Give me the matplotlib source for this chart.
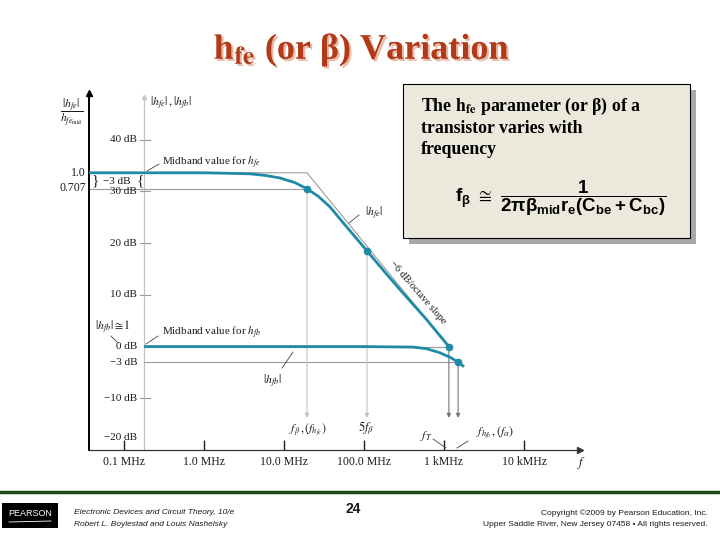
import matplotlib
matplotlib.use('Agg')
import matplotlib.pyplot as plt
import matplotlib.patheffects as pe
from matplotlib.patches import Rectangle
from matplotlib.ticker import NullLocator

plt.rcParams['font.family'] = ['Liberation Serif', 'DejaVu Sans']
plt.rcParams['mathtext.fontset'] = 'stix'
plt.rcParams['mathtext.rm'] = 'Liberation Sans:bold'
plt.rcParams['mathtext.it'] = 'Liberation Sans:bold'
plt.rcParams['mathtext.bf'] = 'Liberation Sans:bold'
plt.rcParams['mathtext.fallback'] = 'stix'

# values (frequency in MHz, gain in dB)
hfe_freq = [0.0365, 1.0, 2.1, 3.75, 5.8, 8.9, 13.7, 19.4, 26.6, 37.6, 58.0, 109.0, 180.0, 282.0, 600.0, 1150.0]
hfe_db = [33.6, 33.6, 33.5, 33.4, 33.1, 32.6, 31.7, 30.5, 29.1, 27.0, 23.5, 18.5, 14.5, 11.0, 5.3, 0.0]
hfb_freq = [0.178, 10.0, 100.0, 410.0, 600.0, 890.0, 1200.0, 1500.0, 1780.0]
hfb_db = [0.0, 0.0, 0.0, -0.1, -0.4, -1.2, -2.1, -3.0, -3.9]
hfe_mid = 33.6

# marked points: f_beta, 5 f_beta, f_T, f_alpha
mark_freq = [19.4, 109.0, 1150.0, 1500.0]
mark_db = [30.5, 18.5, 0.0, -3.0]

freq_ticks = [0.1, 1.0, 10.0, 100.0, 1000.0, 10000.0]
freq_labels = ['0.1 MHz', '1.0 MHz', '10.0 MHz', '100.0 MHz', '1 kMHz', '10 kMHz']
db_ticks = [40, 30, 20, 10, 0, -3, -10, -20]

teal = '#1f8aa6'
grey = '#9a9a9a'
light = '#c4c4c4'
ink = '#1a1a1a'

fig = plt.figure(figsize=(7.2, 5.4), dpi=100)
fig.patch.set_facecolor('white')

ax = fig.add_axes([89 / 720, 90 / 540, 491 / 720, 357 / 540])
ax.set_facecolor('none')
ax.set_xscale('log')
xmin, xmax = 10 ** -1.4375, 10 ** 4.7
ax.set_xlim(xmin, xmax)
ax.set_ylim(-20, 49.03)
for s in ['top', 'right']:
    ax.spines[s].set_visible(False)
ax.spines['left'].set_color('black')
ax.spines['left'].set_linewidth(1.4)
ax.spines['bottom'].set_color('#333333')
ax.spines['bottom'].set_linewidth(0.9)
ax.plot(0, 1, '^', color='black', ms=4, transform=ax.transAxes, clip_on=False)
ax.plot(1, 0, '>', color='#333333', ms=4, transform=ax.transAxes, clip_on=False)

ax.set_xticks(freq_ticks)
ax.set_xticklabels(freq_labels)
ax.xaxis.set_minor_locator(NullLocator())
ax.tick_params(axis='x', direction='in', length=7, width=1, colors=ink, labelsize=8.5, pad=4)
ax.set_yticks([])

# second (dB) axis
f2 = hfb_freq[0]
ax.plot([f2, f2], [-20, 48.3], color=light, lw=0.9)
ax.plot(f2, 48.3, '^', color=light, ms=3)
for d in db_ticks:
    if d in (40, 30, 20, 10, -10):
        ax.plot([f2 * 10 ** (-4 / 80), f2 * 10 ** (6 / 80)], [d, d], color=grey, lw=0.8)
    lab = ('%d dB' % d).replace('-', '\u2212')
    off = (-5, 9) if d == -20 else (-5, 0)
    ax.annotate(lab, xy=(f2, d), xytext=off, textcoords='offset points',
                ha='right', va='center', fontsize=8, color=ink)

# guide lines
f_beta, f_5beta, f_t, f_alpha = mark_freq
ax.plot([xmin, f_beta], [mark_db[0], mark_db[0]], color=grey, lw=0.8)
ax.plot([xmin, f_beta, f_t], [hfe_mid, hfe_mid, 0], color=grey, lw=0.8)
ax.plot([f2, f_t], [0, 0], color=grey, lw=0.8)
ax.plot([f2, f_alpha], [-3, -3], color=grey, lw=0.8)
arrow_end = -13.8
for f, d, c in zip(mark_freq, mark_db, [light, light, '#777777', '#777777']):
    ax.annotate('', xy=(f, arrow_end), xytext=(f, d),
                arrowprops=dict(arrowstyle='-|>', color=c, lw=0.8, mutation_scale=6,
                                shrinkA=0, shrinkB=0))

# curves
ax.plot(hfe_freq, hfe_db, color=teal, lw=2.0, solid_capstyle='butt', solid_joinstyle='round', zorder=5)
ax.plot(hfb_freq, hfb_db, color=teal, lw=2.0, solid_capstyle='butt', solid_joinstyle='round', zorder=5)
ax.plot(mark_freq, mark_db, 'o', color=teal, ms=4.5, zorder=6)

# overlay in pixel coordinates for labels and slide furniture
ov = fig.add_axes([0, 0, 1, 1])
ov.set_xlim(0, 720)
ov.set_ylim(540, 0)
ov.axis('off')

def lead(xs, ys, c='#444444'):
    ov.plot(xs, ys, color=c, lw=0.6)

ov.text(72, 112, r'$\dfrac{|h_{fe}|}{h_{fe_{\rm mid}}}$', ha='center', va='center', fontsize=8.5, color=ink)
ov.text(150, 103, r'$|h_{fe}|\,,|h_{fb}|$', ha='left', va='center', fontsize=8.5, color=ink)
ov.text(86, 173, '1.0', ha='right', va='center', fontsize=8.5, color=ink)
ov.text(86, 188, '0.707', ha='right', va='center', fontsize=8.5, color=ink)
ov.text(92, 181, '}', ha='left', va='center', fontsize=11, color=ink, fontweight='light')
ov.text(103, 181, '\u22123 dB', ha='left', va='center', fontsize=8, color=ink)
ov.text(144, 181, '{', ha='right', va='center', fontsize=11, color=ink)
ov.text(162, 163, r'Midband value for $h_{fe}$', ha='left', va='center', fontsize=8, color=ink)
lead([147, 159], [171, 164])
ov.text(162, 333, r'Midband value for $h_{fb}$', ha='left', va='center', fontsize=8, color=ink)
lead([146, 158], [344, 336])
ov.text(95, 327, r'$|h_{fb}|\cong 1$', ha='left', va='center', fontsize=8.5, color=ink)
lead([111, 118], [336, 343])
ov.text(365, 213, r'$|h_{fe}|$', ha='left', va='center', fontsize=8.5, color=ink)
lead([349, 359], [223, 215])
ov.text(272, 381, r'$|h_{fb}|$', ha='center', va='center', fontsize=8.5, color=ink)
lead([282, 293], [368, 352])
ov.text(418, 292, '\u22126 dB/octave slope', ha='center', va='center', rotation=-49,
        fontsize=7.5, color=ink, rotation_mode='anchor')
ov.text(308, 430, r'$f_{\beta}\,,(f_{h_{fe}})$', ha='center', va='center', fontsize=8.5, color=ink)
ov.text(366, 428, r'$5f_{\beta}$', ha='center', va='center', fontsize=9, color=ink)
ov.text(426, 436, r'$f_T$', ha='center', va='center', fontsize=8.5, color=ink)
lead([433, 446], [439, 448])
ov.text(495, 433, r'$f_{h_{fb}}\,,(f_{\alpha})$', ha='center', va='center', fontsize=8.5, color=ink)
lead([457, 468], [448, 441])
ov.text(582, 463, r'$f$', ha='center', va='center', fontsize=9, color=ink)

# title
ov.text(362, 50, r'$\mathbf{h_{fe}}$ (or β) Variation', ha='center', va='center', fontsize=26,
        fontweight='bold', color='#b23a18',
        path_effects=[pe.SimplePatchShadow(offset=(1.5, -1.5), shadow_rgbFace='#e9b9a8', alpha=1),
                      pe.Normal()])

# text box
ov.add_patch(Rectangle((409, 90), 287, 154, facecolor='#a8a8a8', edgecolor='none'))
ov.add_patch(Rectangle((403, 84), 287, 154, facecolor='#ebe8dc', edgecolor='black', lw=0.8))
ov.text(421, 111, r'The $\mathbf{h_{fe}}$ parameter (or β) of a', fontsize=12.8, fontweight='bold', color='black')
ov.text(421, 133, 'transistor varies with', fontsize=12.8, fontweight='bold', color='black')
ov.text(421, 154, 'frequency', fontsize=12.8, fontweight='bold', color='black')
ov.text(455, 198, r'$f_{\beta}\ \cong\ \dfrac{1}{2\pi\beta_{mid}r_{e}(C_{be}+C_{bc})}$',
        ha='left', va='center', fontsize=13.5, color='black', math_fontfamily='custom')

# footer
ov.plot([0, 720], [492, 492], color='#1d4a1d', lw=2.5)
ov.add_patch(Rectangle((2, 503), 56, 25, facecolor='black', edgecolor='none'))
ov.text(30, 514, 'PEARSON', ha='center', va='center', fontsize=6.5, color='white', family='Liberation Sans')
ov.plot([9, 51], [522, 521], color='white', lw=0.6)
ov.text(74, 513, 'Electronic Devices and Circuit Theory, 10/e', ha='left', va='center', fontsize=6,
        style='italic', family='Liberation Sans', color=ink)
ov.text(74, 524, 'Robert L. Boylestad and Louis Nashelsky', ha='left', va='center', fontsize=6,
        style='italic', family='Liberation Sans', color=ink)
ov.text(353, 509, '24', ha='center', va='center', fontsize=10, fontweight='bold', family='Liberation Sans', color=ink)
ov.text(708, 513, 'Copyright \u00a92009 by Pearson Education, Inc.', ha='right', va='center', fontsize=6,
        family='Liberation Sans', color=ink)
ov.text(708, 525, 'Upper Saddle River, New Jersey 07458 \u2022 All rights reserved.', ha='right', va='center',
        fontsize=6, family='Liberation Sans', color=ink)

fig.savefig('out.png', dpi=100)
